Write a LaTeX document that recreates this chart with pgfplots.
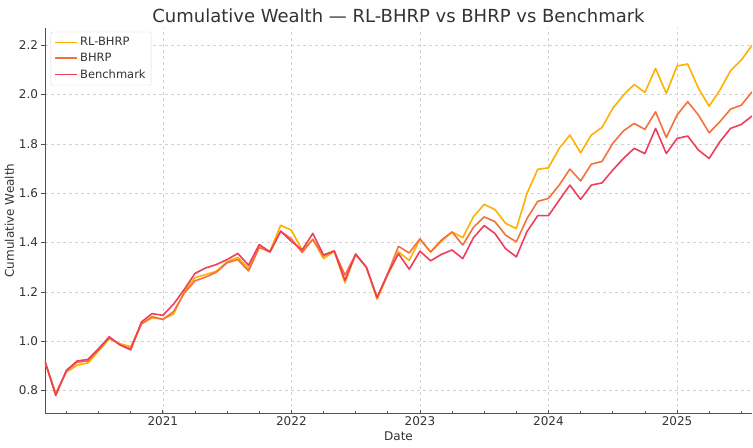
\documentclass[border=0pt]{standalone}
\usepackage{fontspec}
\setmainfont{DejaVu Sans}
\usepackage{pgfplots}
\pgfplotsset{compat=1.18}
\usepackage{pgfplotstable}

\definecolor{rlc}{HTML}{FFB000}
\definecolor{bhc}{HTML}{F5703A}
\definecolor{bmc}{HTML}{EF3E5B}
\definecolor{txt}{HTML}{333333}

% month index (1 = end of Jan 2020), RL-BHRP, BHRP, Benchmark
\pgfplotstableread{
m  rl    bh    bm
1  0.915 0.915 0.920
2  0.790 0.785 0.780
3  0.875 0.880 0.882
4  0.903 0.915 0.920
5  0.912 0.920 0.926
6  0.960 0.965 0.970
7  1.010 1.015 1.018
8  0.990 0.985 0.985
9  0.978 0.970 0.965
10 1.070 1.070 1.078
11 1.095 1.100 1.112
12 1.090 1.088 1.105
13 1.110 1.120 1.150
14 1.200 1.195 1.210
15 1.258 1.245 1.275
16 1.270 1.260 1.297
17 1.284 1.280 1.311
18 1.322 1.318 1.331
19 1.340 1.331 1.356
20 1.295 1.285 1.308
21 1.383 1.380 1.392
22 1.365 1.362 1.362
23 1.470 1.446 1.446
24 1.450 1.415 1.405
25 1.370 1.360 1.370
26 1.413 1.413 1.437
27 1.335 1.345 1.350
28 1.365 1.366 1.366
29 1.237 1.268 1.247
30 1.353 1.353 1.353
31 1.300 1.300 1.300
32 1.170 1.177 1.177
33 1.270 1.275 1.273
34 1.362 1.385 1.355
35 1.328 1.358 1.292
36 1.413 1.415 1.365
37 1.362 1.362 1.326
38 1.405 1.410 1.352
39 1.443 1.443 1.370
40 1.420 1.390 1.335
41 1.505 1.462 1.420
42 1.555 1.504 1.469
43 1.534 1.485 1.437
44 1.478 1.430 1.375
45 1.457 1.403 1.342
46 1.600 1.498 1.445
47 1.697 1.567 1.509
48 1.703 1.579 1.509
49 1.782 1.633 1.572
50 1.836 1.698 1.633
51 1.764 1.650 1.575
52 1.836 1.718 1.633
53 1.867 1.729 1.642
54 1.944 1.802 1.694
55 1.998 1.853 1.741
56 2.041 1.883 1.782
57 2.009 1.859 1.761
58 2.106 1.930 1.863
59 2.005 1.826 1.761
60 2.116 1.917 1.822
61 2.124 1.971 1.832
62 2.025 1.917 1.775
63 1.953 1.845 1.741
64 2.018 1.890 1.809
65 2.097 1.941 1.863
66 2.140 1.957 1.879
67 2.200 2.011 1.913
}\wealth

\begin{document}
\begin{tikzpicture}
\begin{axis}[
    name=ax,
    width=707pt, height=385pt,
    scale only axis,
    xmin=1, xmax=67,
    ymin=0.709, ymax=2.27,
    xtick={12,24,36,48,60},
    xticklabels={2021,2022,2023,2024,2025},
    minor xtick={3,6,9,15,18,21,27,30,33,39,42,45,51,54,57,63,66},
    ytick={0.8,1.0,1.2,1.4,1.6,1.8,2.0,2.2},
    yticklabel style={/pgf/number format/fixed,
        /pgf/number format/fixed zerofill,
        /pgf/number format/precision=1},
    /pgf/number format/assume math mode=true,
    ticklabel style={font=\fontsize{12}{14}\selectfont, text=txt},
    axis x line*=bottom,
    axis y line*=left,
    axis line style={-, draw=txt!85, line width=0.9pt},
    tick style={draw=txt!85, line width=0.7pt},
    xtick align=inside,
    ytick align=outside,
    major tick length=3.5pt,
    minor tick length=2.5pt,
    grid=major,
    major grid style={dashed, draw=gray!35, line width=0.5pt},
    title={Cumulative Wealth — RL-BHRP vs BHRP vs Benchmark},
    title style={font=\fontsize{18}{21}\selectfont, text=txt, yshift=-4pt},
    xlabel={Date},
    ylabel={Cumulative Wealth},
    label style={font=\fontsize{12}{14}\selectfont, text=txt},
    xlabel style={yshift=1pt},
    ylabel style={yshift=-2pt},
    legend style={
        at={(0.008,0.99)}, anchor=north west,
        draw=gray!30, rounded corners=2pt,
        font=\fontsize{11.5}{13}\selectfont, text=txt,
        row sep=2pt, inner sep=3.5pt
    },
    legend cell align=left,
    legend image code/.code={\draw[#1, line width=1.8pt] (0pt,0pt) -- (22pt,0pt);},
]
\addplot[rlc, line width=1.6pt, line join=round] table[x=m, y=rl] {\wealth};
\addlegendentry{RL-BHRP}
\addplot[bhc, line width=1.6pt, line join=round] table[x=m, y=bh] {\wealth};
\addlegendentry{BHRP}
\addplot[bmc, line width=1.6pt, line join=round] table[x=m, y=bm] {\wealth};
\addlegendentry{Benchmark}
\end{axis}
\pgfresetboundingbox
\path ([xshift=-45pt,yshift=-34pt]ax.south west) rectangle ([xshift=1pt,yshift=28pt]ax.north east);
\end{tikzpicture}
\end{document}
